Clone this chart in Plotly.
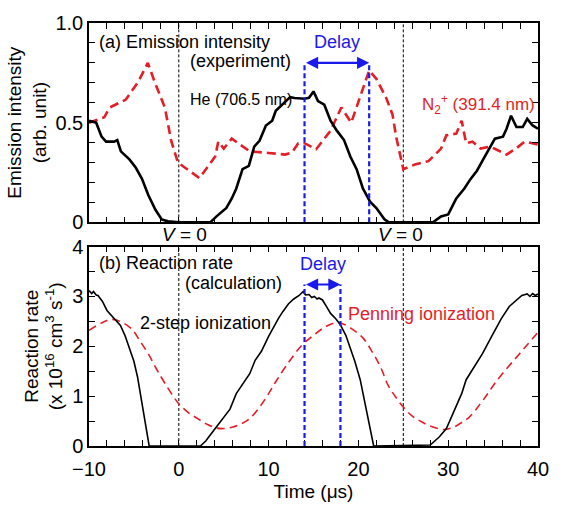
import plotly.graph_objects as go

# ---- (a) measured emission intensity ----
he_t = [-10, -9.2, -8.6, -8.1, -7.2, -6.85, -6.45, -5.5, -4.8, -4.1, -3.4, -2.6, -1.9, -1.2,
        0, 2, 3.5, 4.2, 5.3, 5.9, 6.4, 7.1, 7.8, 8.4, 9.0, 9.7, 10.4, 10.8, 11.5, 12.4, 12.9,
        14.0, 14.5, 15.0, 15.5, 16.2, 16.9, 17.6, 18.4, 19.1, 19.8, 20.5, 21.3, 22.0, 22.9,
        23.4, 25, 27, 28.3, 29.2, 30.0, 30.9, 31.8, 32.5, 33.2, 33.9, 34.7, 35.2, 36.1, 36.5,
        37.0, 37.6, 38.3, 38.8, 39.4, 40]
he_val = [0.51, 0.50, 0.43, 0.405, 0.405, 0.413, 0.356, 0.316, 0.275, 0.218, 0.137, 0.063,
          0.015, 0.005, 0, 0, 0, 0.03, 0.072, 0.12, 0.17, 0.267, 0.283, 0.38, 0.41, 0.486,
          0.51, 0.56, 0.59, 0.628, 0.624, 0.62, 0.625, 0.657, 0.608, 0.59, 0.51, 0.46, 0.413,
          0.33, 0.267, 0.17, 0.104, 0.072, 0.015, 0, 0, 0, 0, 0.03, 0.04, 0.12, 0.17, 0.218,
          0.259, 0.316, 0.38, 0.42, 0.43, 0.47, 0.535, 0.478, 0.478, 0.519, 0.486, 0.47]

n2_t = [-10, -8.3, -7.7, -5.9, -4.5, -3.45, -2.65, -1.55, -0.85, -0.1, 2.3, 4.05, 4.4, 5.0,
        5.9, 6.6, 7.9, 10.0, 11.85, 12.6, 13.3, 14.0, 15.3, 16.9, 18.1, 19.2, 20.0, 21.2,
        22.0, 23.1, 23.8, 24.2, 25.0, 26.3, 27.8, 29.2, 29.8, 30.9, 31.5, 32.0, 32.7, 33.6,
        34.7, 36.5, 37.6, 38.5, 40]
n2_val = [0.50, 0.527, 0.576, 0.616, 0.706, 0.80, 0.70, 0.576, 0.41, 0.30, 0.222, 0.33,
          0.405, 0.37, 0.42, 0.397, 0.356, 0.348, 0.34, 0.35, 0.397, 0.397, 0.367, 0.46,
          0.576, 0.50, 0.608, 0.762, 0.72, 0.624, 0.54, 0.43, 0.267, 0.29, 0.307, 0.37,
          0.437, 0.445, 0.51, 0.397, 0.405, 0.37, 0.38, 0.34, 0.372, 0.405, 0.39]

# ---- (b) calculated reaction rates ----
step2_t = [-10, -9.7, -9.5, -9.2, -9.0, -8.5, -8.0, -7.7, -7.5, -7.0, -6.5, -6.0, -5.5, -5.0,
           -4.6, -4.3, -4.0, -3.7, -3.4, -3.3, 2.4, 3.0, 3.8, 4.7, 5.2, 5.7, 6.4, 7.0, 7.9,
           8.5, 9.2, 10.0, 10.6, 11.1, 11.6, 12.2, 12.8, 13.4, 13.85, 14.1, 14.5, 14.8, 15.1,
           15.4, 15.6, 16.0, 16.5, 16.9, 17.5, 18.0, 18.6, 19.1, 19.6, 20.2, 20.6, 20.9,
           21.3, 21.6, 21.7, 28.0, 29.0, 29.8, 30.9, 31.5, 32.0, 33.0, 33.8, 34.9, 35.9,
           36.8, 37.75, 38.2, 38.8, 39.1, 39.4, 39.7, 40]
step2_val = [3.12, 3.06, 3.10, 3.03, 3.02, 2.90, 2.72, 2.66, 2.60, 2.50, 2.42, 2.22, 1.98,
             1.70, 1.39, 1.05, 0.72, 0.38, 0.05, 0, 0, 0.10, 0.29, 0.50, 0.60, 0.74, 1.05,
             1.20, 1.45, 1.72, 1.90, 2.20, 2.40, 2.56, 2.70, 2.85, 2.95, 3.02, 3.10, 3.03,
             3.04, 2.98, 3.00, 2.95, 2.97, 2.93, 2.78, 2.66, 2.55, 2.43, 2.22, 1.98, 1.70,
             1.33, 0.98, 0.68, 0.35, 0.05, 0, 0.02, 0.18, 0.35, 0.78, 1.05, 1.33, 1.62, 1.85,
             2.22, 2.55, 2.80, 2.95, 3.02, 3.05, 3.00, 3.06, 3.02, 3.05]

penning_t = [-10, -8.5, -7.4, -6.3, -5.2, -4.3, -3.4, -2.5, -1.55, -0.1, 1.0, 2.1, 3.2, 4.2,
             5.0, 6.0, 7.0, 7.9, 9.0, 10.0, 10.8, 12.0, 13.7, 15.0, 16.3, 17.4, 18.3, 19.1,
             20.5, 21.6, 22.5, 23.3, 24.2, 25.1, 26.0, 26.9, 28.0, 29.5, 30.5, 31.4, 32.3,
             33.5, 34.4, 35.2, 36.5, 37.75, 38.9, 40]
penning_val = [2.32, 2.48, 2.54, 2.48, 2.34, 2.10, 1.85, 1.55, 1.26, 0.87, 0.68, 0.55, 0.43,
               0.36, 0.35, 0.38, 0.45, 0.55, 0.78, 1.05, 1.29, 1.62, 2.02, 2.22, 2.39, 2.47,
               2.45, 2.37, 2.17, 1.87, 1.57, 1.22, 0.97, 0.76, 0.60, 0.50, 0.40, 0.33, 0.37,
               0.46, 0.57, 0.83, 1.05, 1.26, 1.55, 1.81, 2.05, 2.28]

zero_voltage_t = [0, 25]
delay_a = [14.0, 21.2]
delay_b = [14.0, 18.0]

RED = "rgb(228,30,38)"
BLUE = "rgb(25,25,235)"
FONT = "Arial, Liberation Sans, sans-serif"

fig = go.Figure()
fig.add_trace(go.Scatter(x=n2_t, y=n2_val, mode="lines", xaxis="x2", yaxis="y2",
                         line=dict(color=RED, width=2.6, dash="9px,5px")))
fig.add_trace(go.Scatter(x=he_t, y=he_val, mode="lines", xaxis="x2", yaxis="y2",
                         line=dict(color="black", width=2.6)))
fig.add_trace(go.Scatter(x=penning_t, y=penning_val, mode="lines", xaxis="x", yaxis="y",
                         line=dict(color=RED, width=1.6, dash="8px,5px", shape="spline")))
fig.add_trace(go.Scatter(x=step2_t, y=step2_val, mode="lines", xaxis="x", yaxis="y",
                         line=dict(color="black", width=1.6)))

shapes = []
for t in zero_voltage_t:
    for xr, yr in (("x2", "y2"), ("x", "y")):
        shapes.append(dict(type="line", xref=xr, yref=f"{yr} domain", x0=t, x1=t, y0=0, y1=1,
                           line=dict(color="black", width=1, dash="3px,2px"), layer="below"))
for t in delay_a:
    shapes.append(dict(type="line", xref="x2", yref="y2", x0=t, x1=t, y0=0, y1=0.8,
                       line=dict(color=BLUE, width=2.2, dash="5px,3px")))
for t in delay_b:
    shapes.append(dict(type="line", xref="x", yref="y", x0=t, x1=t, y0=0, y1=3.24,
                       line=dict(color=BLUE, width=2.2, dash="5px,3px")))

ann = []
def text(x, y, s, xr, yr, anchor="left", color="black", size=18):
    ann.append(dict(x=x, y=y, xref=xr, yref=yr, text=s, showarrow=False, xanchor=anchor,
                    yanchor="middle", font=dict(family=FONT, size=size, color=color)))

text(-9.13, 0.907, "(a) Emission intensity", "x2", "y2")
text(12.7, 0.81, "(experiment)", "x2", "y2", anchor="right")
text(0.98, 0.615, "He (706.5 nm)", "x2", "y2", size=16)
text(17.6, 0.907, "Delay", "x2", "y2", anchor="center", color=BLUE)
text(26.85, 0.59, "N<sub>2</sub><sup>+</sup> (391.4 nm)", "x2", "y2", color=RED, size=17)
text(-9.13, 3.67, "(b) Reaction rate", "x", "y")
text(11.7, 3.28, "(calculation)", "x", "y", anchor="right")
text(-4.57, 2.46, "2-step ionization", "x", "y")
text(16.1, 3.65, "Delay", "x", "y", anchor="center", color=BLUE)
text(27.0, 2.65, "Penning ionization", "x", "y", anchor="center", color=RED)
# V = 0 labels in the gap between the panels
for t, off in zip(zero_voltage_t, [0.6, -0.3]):
    ann.append(dict(x=t + off, y=0.501, xref="x", yref="paper", showarrow=False,
                    text="<i>V</i> = 0", xanchor="center", yanchor="middle",
                    font=dict(family=FONT, size=19, color="black")))

# double-headed delay arrows
for (t0, t1), xr, yr, yy in ((delay_a, "x2", "y2", 0.80), (delay_b, "x", "y", 3.24)):
    ann.append(dict(x=t1, y=yy, ax=t0, ay=yy, xref=xr, yref=yr, axref=xr, ayref=yr,
                    text="", showarrow=True, arrowhead=2, arrowside="end+start",
                    arrowsize=1.1, arrowwidth=2.2, arrowcolor=BLUE, standoff=0, startstandoff=0))

axis_common = dict(showline=True, linecolor="black", linewidth=1.5, mirror="allticks",
                   ticks="inside", ticklen=6, tickwidth=1.2, tickcolor="black",
                   showgrid=False, zeroline=False,
                   tickfont=dict(family=FONT, size=20, color="black"))
title_font = dict(family=FONT, size=19, color="black")

fig.update_layout(
    width=561, height=511,
    margin=dict(l=89, r=12, t=23, b=53),
    paper_bgcolor="white", plot_bgcolor="white",
    showlegend=False,
    shapes=shapes, annotations=ann,
    xaxis=dict(domain=[0, 1], range=[-10, 40], anchor="y", dtick=10, ticklabelstandoff=4,
               minor=dict(dtick=2, ticks="inside", ticklen=6, tickcolor="black"),
               title=dict(text="Time (μs)", font=title_font, standoff=6),
               **axis_common),
    yaxis=dict(domain=[0, 0.4713], range=[0, 4], anchor="x", dtick=1,
               minor=dict(dtick=0.5, ticks="inside", ticklen=6, tickcolor="black"),
               title=dict(text="Reaction rate<br>(x 10<sup>16</sup> cm<sup>3</sup> s<sup>-1</sup>)",
                          font=title_font, standoff=4),
               **axis_common),
    xaxis2=dict(domain=[0, 1], range=[-10, 40], anchor="y2", matches="x", dtick=10,
                showticklabels=False,
                minor=dict(dtick=2, ticks="inside", ticklen=6, tickcolor="black"),
                **axis_common),
    yaxis2=dict(domain=[0.5287, 1], range=[0, 1], anchor="x2",
                tickvals=[0, 0.5, 1.0], ticktext=["0", "0.5", "1.0"],
                minor=dict(dtick=0.1, ticks="inside", ticklen=6, tickcolor="black"),
                title=dict(text="Emission intensity<br>(arb. unit)",
                           font=title_font, standoff=4),
                **axis_common),
)

fig.write_html("out.html")
